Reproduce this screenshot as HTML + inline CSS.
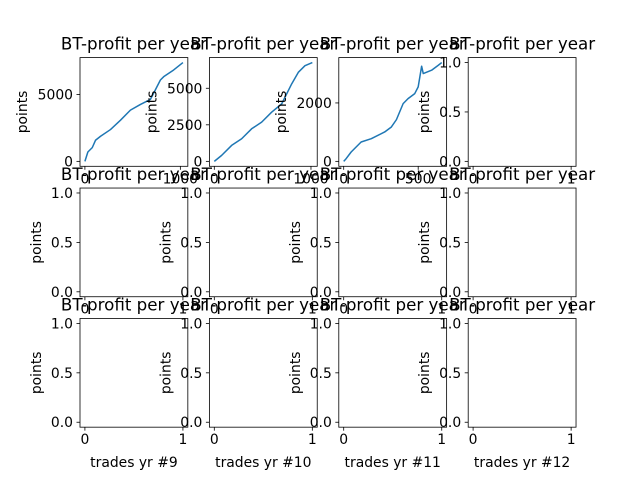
<!DOCTYPE html>
<html><head><meta charset="utf-8"><style>
html,body{margin:0;padding:0;background:#fff}
svg{display:block;font-family:"DejaVu Sans","Liberation Sans",sans-serif}
</style></head><body>
<svg id="fig" width="640" height="480" viewBox="0 0 640 480" xmlns="http://www.w3.org/2000/svg"></svg>
<script>
// Chart data
const series1X = [0,31,77,111,164,268,373,477,582,686,728,791,826,930,1027];
const series1Y = [0,700,1025,1575,1875,2375,3075,3825,4250,4625,5200,6075,6325,6825,7380];
const series2X = [0,76,179,283,386,490,593,697,800,869,938,1014];
const series2Y = [0,409,1091,1545,2227,2682,3364,3932,5295,6091,6545,6760];
const series3X = [0,16,50,117,185,275,320,354,399,432,477,500,523,534,590,635,658];
const series3Y = [0,91,320,663,777,1006,1177,1429,1977,2149,2320,2549,3257,3006,3120,3291,3383];
const xTicks1 = [0,1000], yTicks1 = [0,5000];
const xTicks2 = [0,1000], yTicks2 = [0,2500,5000];
const xTicks3 = [0,500], yTicks3 = [0,2000];
const emptyXTicks = [0,1], emptyYTicks = ["0.0","0.5","1.0"];
const xLabels = ["trades yr #9","trades yr #10","trades yr #11","trades yr #12"];
const titleText = "BT-profit per year";

const NS = "http://www.w3.org/2000/svg";
const fig = document.getElementById('fig');
function mk(tag, attrs, parent, text){
  const e = document.createElementNS(NS, tag);
  for (const k in attrs) e.setAttribute(k, attrs[k]);
  if (text !== undefined) e.textContent = text;
  parent.appendChild(e);
  return e;
}
const W = 107.83, H = 108.7, GX = 21.57, GY = 21.74;
const datasets = [
  {x:series1X, y:series1Y, xt:xTicks1, yt:yTicks1},
  {x:series2X, y:series2Y, xt:xTicks2, yt:yTicks2},
  {x:series3X, y:series3Y, xt:xTicks3, yt:yTicks3}
];
for (let r=0;r<3;r++){
  for (let c=0;c<4;c++){
    const idx = r*4+c;
    const x0 = 80 + c*(W+GX), y0 = 57.6 + r*(H+GY);
    const g = mk('g', {}, fig);
    
    
    const bg = mk('rect', {x:x0, y:y0, width:W, height:H, fill:'#fff'}, g);
    
    
    const ds = datasets[idx];
    let xmin, xmax, ymin, ymax, xt, yt, ytl;
    if (ds){
      const dx0 = Math.min(...ds.x), dx1 = Math.max(...ds.x);
      const dy0 = Math.min(...ds.y), dy1 = Math.max(...ds.y);
      xmin = dx0 - 0.05*(dx1-dx0); xmax = dx1 + 0.05*(dx1-dx0);
      ymin = dy0 - 0.05*(dy1-dy0); ymax = dy1 + 0.05*(dy1-dy0);
      xt = ds.xt; yt = ds.yt; ytl = ds.yt.map(String);
    } else {
      xmin = -0.05; xmax = 1.05; ymin = -0.05; ymax = 1.05;
      xt = emptyXTicks; yt = emptyYTicks.map(Number); ytl = emptyYTicks;
    }
    const sx = v => x0 + (v - xmin)/(xmax - xmin)*W;
    const sy = v => y0 + H - (v - ymin)/(ymax - ymin)*H;
    if (ds){
      const pts = ds.x.map((v,i)=> sx(v).toFixed(2)+','+sy(ds.y[i]).toFixed(2)).join(' ');
      const pl = mk('polyline', {points:pts, fill:'none', stroke:'#1f77b4', 'stroke-width':1.5, 'stroke-linejoin':'round'}, g);
      
      
    }
    const sp = mk('rect', {x:x0, y:y0, width:W, height:H, fill:'none', stroke:'#000', 'stroke-width':0.8}, g);
    
    
    xt.forEach(v=>{
      const X = sx(v);
      mk('line', {x1:X, x2:X, y1:y0+H, y2:y0+H+3.5, stroke:'#000', 'stroke-width':0.8}, g);
      const t = mk('text', {x:X, y:y0+H+17, 'font-size':13.9, 'text-anchor':'middle', fill:'#000'}, g, String(v));
      
      
    });
    yt.forEach((v,i)=>{
      const Y = sy(v);
      mk('line', {x1:x0-3.5, x2:x0, y1:Y, y2:Y, stroke:'#000', 'stroke-width':0.8}, g);
      const t = mk('text', {x:x0-7, y:Y+5, 'font-size':13.9, 'text-anchor':'end', fill:'#000'}, g, ytl[i]);
      
      
    });
    const off = ds ? 58 : 44;
    const yl = mk('text', {x:0, y:0, 'font-size':13.9, 'text-anchor':'middle', transform:'translate('+(x0-off+5)+','+(y0+H/2)+') rotate(-90)', fill:'#000'}, g, 'points');
    
    
    const tt = mk('text', {x:x0+W/2, y:y0-8, 'font-size':16.7, 'text-anchor':'middle', fill:'#000'}, g, titleText);
    
    
    if (r===2){
      const xl = mk('text', {x:x0+W/2, y:y0+H+40, 'font-size':13.9, 'text-anchor':'middle', fill:'#000'}, g, xLabels[c]);
      
      
    }
  }
}
</script>
</body></html>
